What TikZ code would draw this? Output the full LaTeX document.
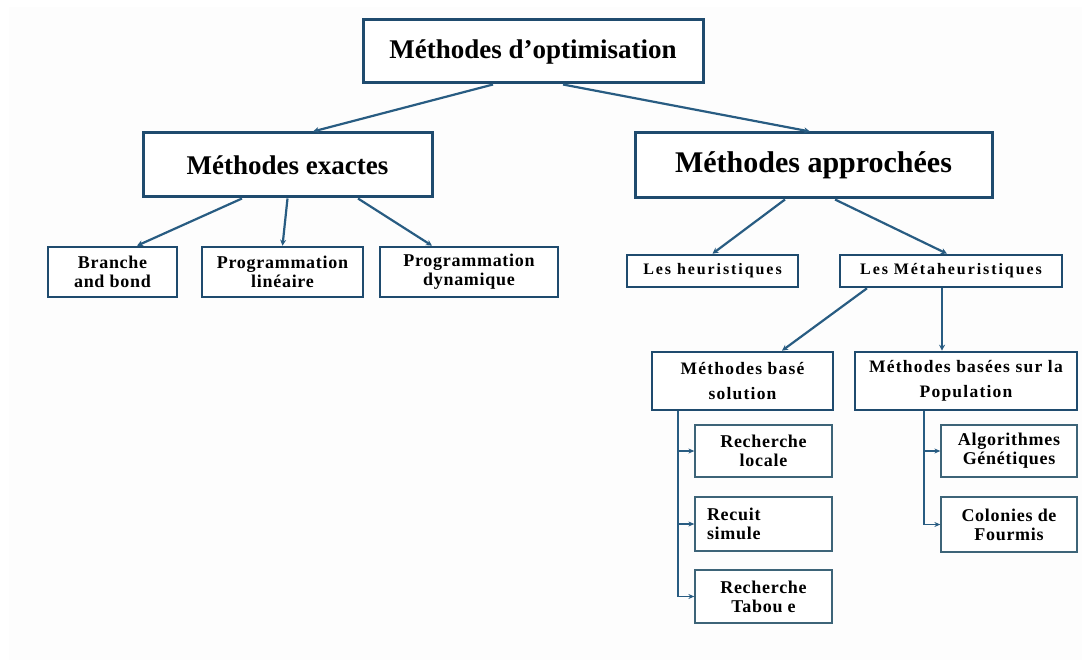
\documentclass[tikz,border=0pt]{standalone}
\usepackage{fontspec}
\setmainfont{Liberation Serif}
\usetikzlibrary{arrows.meta}
\definecolor{boxblue}{HTML}{1F4B6E}
\definecolor{linkblue}{HTML}{285C82}
\definecolor{thinblue}{HTML}{3D6478}
\definecolor{paper}{HTML}{FDFDFD}
\begin{document}
\begin{tikzpicture}[x=1pt,y=-1pt,
  bigbox/.style={draw=boxblue,line width=3pt,fill=white,inner sep=0pt,align=center},
  midbox/.style={draw=boxblue,line width=2.6pt,fill=white,inner sep=0pt,align=center},
  leafbox/.style={draw=thinblue,line width=1.3pt,fill=white,inner sep=0pt,align=center},
  titlefont/.style={font=\bfseries\fontsize{27}{30}\selectfont},
  smallfont/.style={font=\bfseries\addfontfeature{LetterSpace=4}\fontsize{18}{19}\selectfont},
  heurfont/.style={font=\bfseries\addfontfeature{LetterSpace=12}\fontsize{16}{18}\selectfont},
  solfont/.style={font=\bfseries\addfontfeature{LetterSpace=7}\fontsize{17.5}{25}\selectfont},
  conn/.style={draw=linkblue,line width=2.2pt,-{Stealth[length=6pt,width=6pt]}},
  trunk/.style={draw=linkblue,line width=1.6pt,-{Stealth[length=6pt,width=5pt]}}
]
\useasboundingbox (0,0) rectangle (1082,660);
\fill[white] (0,0) rectangle (1082,660);
\fill[paper] (9,7) rectangle (1082,660);

% root and first level
\node[bigbox,titlefont,minimum width=340pt,minimum height=63pt] (root) at (533,51.5) {Méthodes d’optimisation};
\node[bigbox,titlefont,minimum width=289pt,minimum height=64pt] (exactes) at (287.5,165) {Méthodes exactes};
\node[bigbox,font=\bfseries\fontsize{30}{33}\selectfont,minimum width=357pt,minimum height=65pt] (approchees) at (813.5,165.5) {Méthodes approchées};

% exact methods
\node[midbox,smallfont,minimum width=129pt,minimum height=50pt] (bb) at (112.5,272) {Branche\\and bond};
\node[midbox,smallfont,minimum width=161pt,minimum height=50pt] (pl) at (282.5,272) {Programmation\\linéaire};
\node[midbox,smallfont,minimum width=178pt,minimum height=50pt] (pd) at (469,272) {Programmation\\dynamique};

% approximate methods
\node[midbox,heurfont,minimum width=171pt,minimum height=32pt] (heur) at (712.5,271) {Les heuristiques};
\node[midbox,heurfont,minimum width=222pt,minimum height=32pt] (meta) at (951,271) {Les Métaheuristiques};

\node[midbox,solfont,minimum width=181pt,minimum height=58pt] (sol) at (742.5,381) {Méthodes basé\\solution};
\node[midbox,solfont,minimum width=222pt,minimum height=58pt] (pop) at (966,381) {Méthodes basées sur la\\Population};

% leaves
\node[leafbox,smallfont,minimum width=137pt,minimum height=52pt] (rl) at (763.5,451) {Recherche\\locale};
\node[leafbox,smallfont,minimum width=137pt,minimum height=54pt,text width=113pt,inner xsep=12pt,align=left] (rs) at (763.5,524) {Recuit\\simule};
\node[leafbox,smallfont,minimum width=137pt,minimum height=53pt] (rt) at (763.5,596.5) {Recherche\\Tabou e};
\node[leafbox,smallfont,minimum width=136pt,minimum height=52pt] (ag) at (1009,451) {Algorithmes\\Génétiques};
\node[leafbox,smallfont,minimum width=136pt,minimum height=55pt] (cf) at (1009,524.5) {Colonies de\\Fourmis};

% connectors
\draw[conn] ([xshift=-40pt]root.south) -- ([xshift=25.5pt]exactes.north);
\draw[conn] ([xshift=30pt]root.south) -- ([xshift=-3.5pt]approchees.north);

\draw[conn] ([xshift=-45.5pt]exactes.south) -- ([xshift=24.5pt]bb.north);
\draw[conn] (exactes.south) -- (pl.north);
\draw[conn] ([xshift=70.5pt]exactes.south) -- ([xshift=-37pt]pd.north);

\draw[conn] ([xshift=-28.5pt]approchees.south) -- (heur.north);
\draw[conn] ([xshift=21.5pt]approchees.south) -- ([xshift=-4pt]meta.north);

\draw[conn] ([xshift=-84pt]meta.south) -- ([xshift=39.5pt]sol.north);
\draw[conn] ([xshift=-9pt]meta.south) -- ([xshift=-24pt]pop.north);

\draw[trunk] ([xshift=-64.5pt]sol.south) |- (rl.west);
\draw[trunk] ([xshift=-64.5pt]sol.south) |- (rs.west);
\draw[trunk] ([xshift=-64.5pt]sol.south) |- (rt.west);

\draw[trunk] ([xshift=-42pt]pop.south) |- (ag.west);
\draw[trunk] ([xshift=-42pt]pop.south) |- (cf.west);
\end{tikzpicture}
\end{document}
